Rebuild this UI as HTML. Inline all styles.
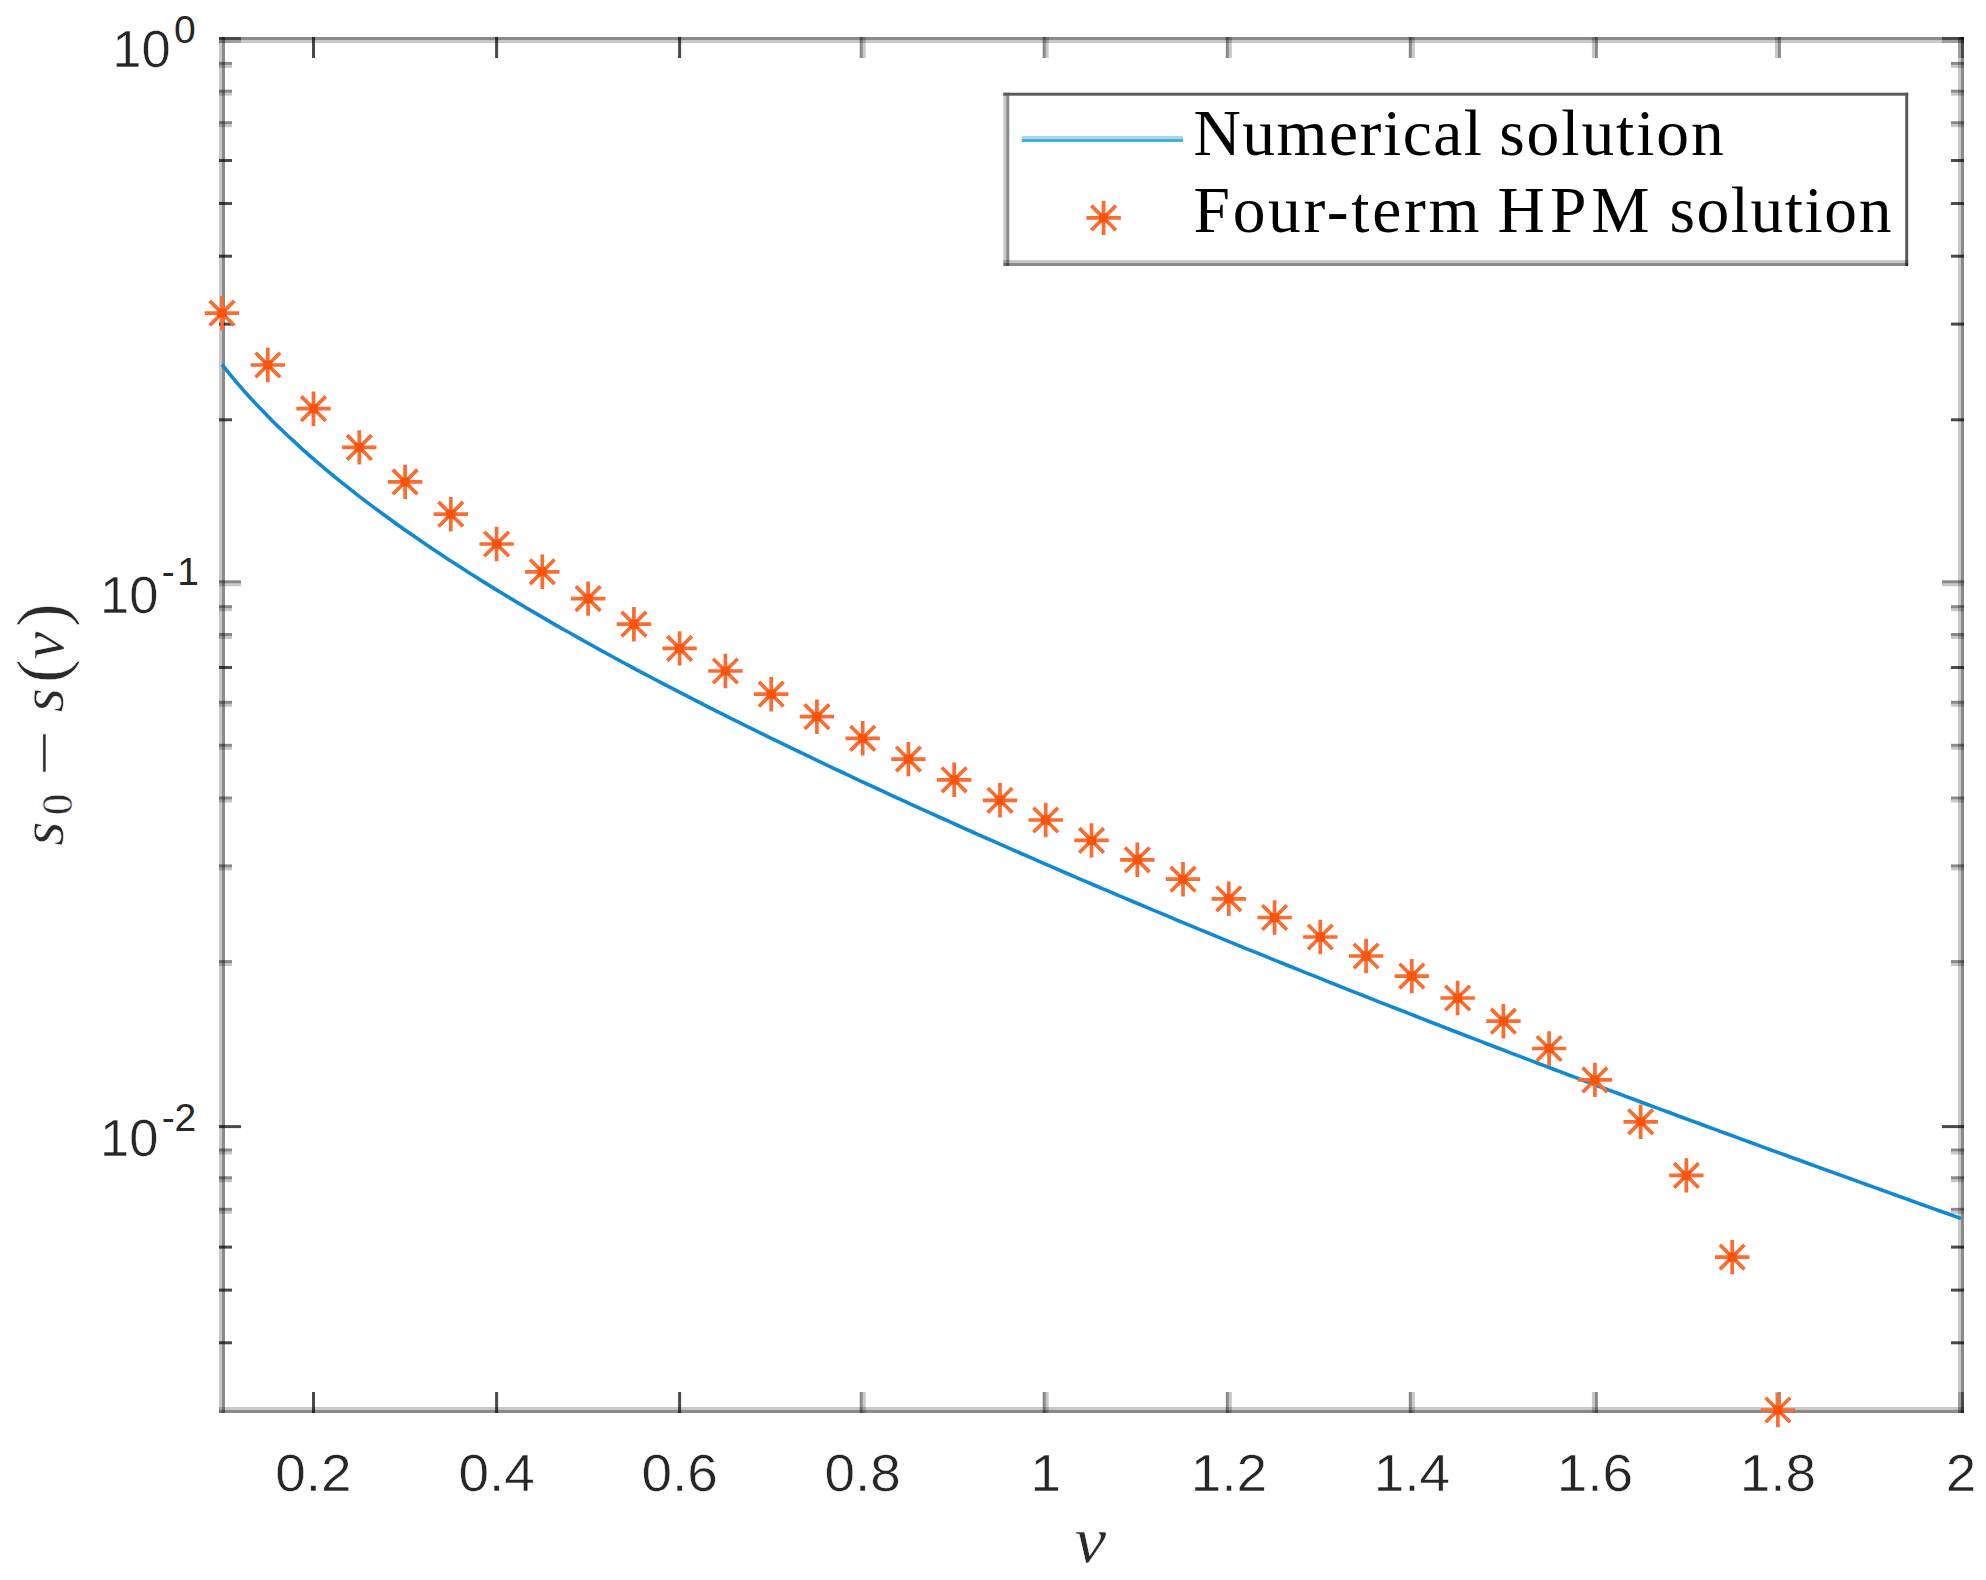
<!DOCTYPE html>
<html lang="en"><head><meta charset="utf-8"><title>Numerical vs four-term HPM solution</title>
<style>html,body{margin:0;padding:0;background:#fff}svg{display:block}.tk{font-family:"Liberation Sans",sans-serif;fill:#262626;stroke:#fff;stroke-width:0.5px}.ex{stroke:none}.lg{font-family:"Liberation Serif",serif;fill:#000}.mi{font-family:"Liberation Serif",serif;font-style:italic;fill:#2a2a2a;stroke:#fff;stroke-width:0.5px}.mr{font-family:"Liberation Serif",serif;fill:#2a2a2a;stroke:#fff;stroke-width:0.5px}</style></head><body>
<svg width="1986" height="1580" viewBox="0 0 1986 1580">
<rect width="1986" height="1580" fill="#fff"/>
<g id="axes">
<rect x="219.0" y="61.9" width="13.0" height="3.0" fill="rgba(0,0,0,0.46)"/>
<rect x="219.0" y="64.9" width="13.0" height="3.0" fill="rgba(0,0,0,0.215)"/>
<rect x="1951.0" y="61.9" width="13.0" height="3.0" fill="rgba(0,0,0,0.46)"/>
<rect x="1951.0" y="64.9" width="13.0" height="3.0" fill="rgba(0,0,0,0.215)"/>
<rect x="219.0" y="89.7" width="13.0" height="3.0" fill="rgba(0,0,0,0.46)"/>
<rect x="219.0" y="92.7" width="13.0" height="3.0" fill="rgba(0,0,0,0.215)"/>
<rect x="1951.0" y="89.7" width="13.0" height="3.0" fill="rgba(0,0,0,0.46)"/>
<rect x="1951.0" y="92.7" width="13.0" height="3.0" fill="rgba(0,0,0,0.215)"/>
<rect x="219.0" y="121.2" width="13.0" height="3.0" fill="rgba(0,0,0,0.46)"/>
<rect x="219.0" y="124.2" width="13.0" height="3.0" fill="rgba(0,0,0,0.215)"/>
<rect x="1951.0" y="121.2" width="13.0" height="3.0" fill="rgba(0,0,0,0.46)"/>
<rect x="1951.0" y="124.2" width="13.0" height="3.0" fill="rgba(0,0,0,0.215)"/>
<rect x="219.0" y="159.0" width="13.0" height="3.0" fill="rgba(0,0,0,0.71)"/>
<rect x="1951.0" y="159.0" width="13.0" height="3.0" fill="rgba(0,0,0,0.71)"/>
<rect x="219.0" y="202.0" width="13.0" height="3.0" fill="rgba(0,0,0,0.71)"/>
<rect x="1951.0" y="202.0" width="13.0" height="3.0" fill="rgba(0,0,0,0.71)"/>
<rect x="219.0" y="254.7" width="13.0" height="3.0" fill="rgba(0,0,0,0.71)"/>
<rect x="1951.0" y="254.7" width="13.0" height="3.0" fill="rgba(0,0,0,0.71)"/>
<rect x="219.0" y="322.6" width="13.0" height="3.0" fill="rgba(0,0,0,0.71)"/>
<rect x="1951.0" y="322.6" width="13.0" height="3.0" fill="rgba(0,0,0,0.71)"/>
<rect x="219.0" y="418.3" width="13.0" height="3.0" fill="rgba(0,0,0,0.71)"/>
<rect x="1951.0" y="418.3" width="13.0" height="3.0" fill="rgba(0,0,0,0.71)"/>
<rect x="219.0" y="580.3" width="22.0" height="3.0" fill="rgba(0,0,0,0.46)"/>
<rect x="219.0" y="583.3" width="22.0" height="3.0" fill="rgba(0,0,0,0.215)"/>
<rect x="1942.0" y="580.3" width="22.0" height="3.0" fill="rgba(0,0,0,0.46)"/>
<rect x="1942.0" y="583.3" width="22.0" height="3.0" fill="rgba(0,0,0,0.215)"/>
<rect x="219.0" y="605.2" width="13.0" height="3.0" fill="rgba(0,0,0,0.46)"/>
<rect x="219.0" y="608.2" width="13.0" height="3.0" fill="rgba(0,0,0,0.215)"/>
<rect x="1951.0" y="605.2" width="13.0" height="3.0" fill="rgba(0,0,0,0.46)"/>
<rect x="1951.0" y="608.2" width="13.0" height="3.0" fill="rgba(0,0,0,0.215)"/>
<rect x="219.0" y="633.0" width="13.0" height="3.0" fill="rgba(0,0,0,0.46)"/>
<rect x="219.0" y="636.0" width="13.0" height="3.0" fill="rgba(0,0,0,0.215)"/>
<rect x="1951.0" y="633.0" width="13.0" height="3.0" fill="rgba(0,0,0,0.46)"/>
<rect x="1951.0" y="636.0" width="13.0" height="3.0" fill="rgba(0,0,0,0.215)"/>
<rect x="219.0" y="666.0" width="13.0" height="3.0" fill="rgba(0,0,0,0.71)"/>
<rect x="1951.0" y="666.0" width="13.0" height="3.0" fill="rgba(0,0,0,0.71)"/>
<rect x="219.0" y="700.8" width="13.0" height="3.0" fill="rgba(0,0,0,0.46)"/>
<rect x="219.0" y="703.8" width="13.0" height="3.0" fill="rgba(0,0,0,0.215)"/>
<rect x="1951.0" y="700.8" width="13.0" height="3.0" fill="rgba(0,0,0,0.46)"/>
<rect x="1951.0" y="703.8" width="13.0" height="3.0" fill="rgba(0,0,0,0.215)"/>
<rect x="219.0" y="743.8" width="13.0" height="3.0" fill="rgba(0,0,0,0.46)"/>
<rect x="219.0" y="746.8" width="13.0" height="3.0" fill="rgba(0,0,0,0.215)"/>
<rect x="1951.0" y="743.8" width="13.0" height="3.0" fill="rgba(0,0,0,0.46)"/>
<rect x="1951.0" y="746.8" width="13.0" height="3.0" fill="rgba(0,0,0,0.215)"/>
<rect x="219.0" y="796.5" width="13.0" height="3.0" fill="rgba(0,0,0,0.46)"/>
<rect x="219.0" y="799.5" width="13.0" height="3.0" fill="rgba(0,0,0,0.215)"/>
<rect x="1951.0" y="796.5" width="13.0" height="3.0" fill="rgba(0,0,0,0.46)"/>
<rect x="1951.0" y="799.5" width="13.0" height="3.0" fill="rgba(0,0,0,0.215)"/>
<rect x="219.0" y="864.4" width="13.0" height="3.0" fill="rgba(0,0,0,0.46)"/>
<rect x="219.0" y="867.4" width="13.0" height="3.0" fill="rgba(0,0,0,0.215)"/>
<rect x="1951.0" y="864.4" width="13.0" height="3.0" fill="rgba(0,0,0,0.46)"/>
<rect x="1951.0" y="867.4" width="13.0" height="3.0" fill="rgba(0,0,0,0.215)"/>
<rect x="219.0" y="960.1" width="13.0" height="3.0" fill="rgba(0,0,0,0.46)"/>
<rect x="219.0" y="963.1" width="13.0" height="3.0" fill="rgba(0,0,0,0.215)"/>
<rect x="1951.0" y="960.1" width="13.0" height="3.0" fill="rgba(0,0,0,0.46)"/>
<rect x="1951.0" y="963.1" width="13.0" height="3.0" fill="rgba(0,0,0,0.215)"/>
<rect x="219.0" y="1125.1" width="22.0" height="3.0" fill="rgba(0,0,0,0.71)"/>
<rect x="1942.0" y="1125.1" width="22.0" height="3.0" fill="rgba(0,0,0,0.71)"/>
<rect x="219.0" y="1148.5" width="13.0" height="3.0" fill="rgba(0,0,0,0.46)"/>
<rect x="219.0" y="1151.5" width="13.0" height="3.0" fill="rgba(0,0,0,0.215)"/>
<rect x="1951.0" y="1148.5" width="13.0" height="3.0" fill="rgba(0,0,0,0.46)"/>
<rect x="1951.0" y="1151.5" width="13.0" height="3.0" fill="rgba(0,0,0,0.215)"/>
<rect x="219.0" y="1176.3" width="13.0" height="3.0" fill="rgba(0,0,0,0.46)"/>
<rect x="219.0" y="1179.3" width="13.0" height="3.0" fill="rgba(0,0,0,0.215)"/>
<rect x="1951.0" y="1176.3" width="13.0" height="3.0" fill="rgba(0,0,0,0.46)"/>
<rect x="1951.0" y="1179.3" width="13.0" height="3.0" fill="rgba(0,0,0,0.215)"/>
<rect x="219.0" y="1207.8" width="13.0" height="3.0" fill="rgba(0,0,0,0.46)"/>
<rect x="219.0" y="1210.8" width="13.0" height="3.0" fill="rgba(0,0,0,0.215)"/>
<rect x="1951.0" y="1207.8" width="13.0" height="3.0" fill="rgba(0,0,0,0.46)"/>
<rect x="1951.0" y="1210.8" width="13.0" height="3.0" fill="rgba(0,0,0,0.215)"/>
<rect x="219.0" y="1245.6" width="13.0" height="3.0" fill="rgba(0,0,0,0.71)"/>
<rect x="1951.0" y="1245.6" width="13.0" height="3.0" fill="rgba(0,0,0,0.71)"/>
<rect x="219.0" y="1288.6" width="13.0" height="3.0" fill="rgba(0,0,0,0.71)"/>
<rect x="1951.0" y="1288.6" width="13.0" height="3.0" fill="rgba(0,0,0,0.71)"/>
<rect x="219.0" y="1341.3" width="13.0" height="3.0" fill="rgba(0,0,0,0.71)"/>
<rect x="1951.0" y="1341.3" width="13.0" height="3.0" fill="rgba(0,0,0,0.71)"/>
<rect x="312.0" y="1392.0" width="3.0" height="21.0" fill="rgba(0,0,0,0.71)"/>
<rect x="312.0" y="37.0" width="3.0" height="21.0" fill="rgba(0,0,0,0.71)"/>
<rect x="495.1" y="1392.0" width="3.0" height="21.0" fill="rgba(0,0,0,0.71)"/>
<rect x="495.1" y="37.0" width="3.0" height="21.0" fill="rgba(0,0,0,0.71)"/>
<rect x="678.1" y="1392.0" width="3.0" height="21.0" fill="rgba(0,0,0,0.71)"/>
<rect x="678.1" y="37.0" width="3.0" height="21.0" fill="rgba(0,0,0,0.71)"/>
<rect x="859.7" y="1392.0" width="3.0" height="21.0" fill="rgba(0,0,0,0.46)"/>
<rect x="862.7" y="1392.0" width="3.0" height="21.0" fill="rgba(0,0,0,0.215)"/>
<rect x="859.7" y="37.0" width="3.0" height="21.0" fill="rgba(0,0,0,0.46)"/>
<rect x="862.7" y="37.0" width="3.0" height="21.0" fill="rgba(0,0,0,0.215)"/>
<rect x="1042.7" y="1392.0" width="3.0" height="21.0" fill="rgba(0,0,0,0.46)"/>
<rect x="1045.7" y="1392.0" width="3.0" height="21.0" fill="rgba(0,0,0,0.215)"/>
<rect x="1042.7" y="37.0" width="3.0" height="21.0" fill="rgba(0,0,0,0.46)"/>
<rect x="1045.7" y="37.0" width="3.0" height="21.0" fill="rgba(0,0,0,0.215)"/>
<rect x="1225.8" y="1392.0" width="3.0" height="21.0" fill="rgba(0,0,0,0.46)"/>
<rect x="1228.8" y="1392.0" width="3.0" height="21.0" fill="rgba(0,0,0,0.215)"/>
<rect x="1225.8" y="37.0" width="3.0" height="21.0" fill="rgba(0,0,0,0.46)"/>
<rect x="1228.8" y="37.0" width="3.0" height="21.0" fill="rgba(0,0,0,0.215)"/>
<rect x="1408.8" y="1392.0" width="3.0" height="21.0" fill="rgba(0,0,0,0.46)"/>
<rect x="1411.8" y="1392.0" width="3.0" height="21.0" fill="rgba(0,0,0,0.215)"/>
<rect x="1408.8" y="37.0" width="3.0" height="21.0" fill="rgba(0,0,0,0.46)"/>
<rect x="1411.8" y="37.0" width="3.0" height="21.0" fill="rgba(0,0,0,0.215)"/>
<rect x="1591.9" y="1392.0" width="3.0" height="21.0" fill="rgba(0,0,0,0.215)"/>
<rect x="1594.9" y="1392.0" width="3.0" height="21.0" fill="rgba(0,0,0,0.46)"/>
<rect x="1591.9" y="37.0" width="3.0" height="21.0" fill="rgba(0,0,0,0.215)"/>
<rect x="1594.9" y="37.0" width="3.0" height="21.0" fill="rgba(0,0,0,0.46)"/>
<rect x="1774.9" y="1392.0" width="3.0" height="21.0" fill="rgba(0,0,0,0.215)"/>
<rect x="1777.9" y="1392.0" width="3.0" height="21.0" fill="rgba(0,0,0,0.46)"/>
<rect x="1774.9" y="37.0" width="3.0" height="21.0" fill="rgba(0,0,0,0.215)"/>
<rect x="1777.9" y="37.0" width="3.0" height="21.0" fill="rgba(0,0,0,0.46)"/>
<rect x="219.0" y="37.0" width="3.0" height="1376.0" fill="rgba(0,0,0,0.215)"/>
<rect x="222.0" y="37.0" width="3.0" height="1376.0" fill="rgba(0,0,0,0.46)"/>
<rect x="1958.0" y="37.0" width="3.0" height="1376.0" fill="rgba(0,0,0,0.215)"/>
<rect x="1961.0" y="37.0" width="3.0" height="1376.0" fill="rgba(0,0,0,0.46)"/>
<rect x="219.0" y="37.0" width="1745.0" height="3.0" fill="rgba(0,0,0,0.46)"/>
<rect x="219.0" y="40.0" width="1745.0" height="3.0" fill="rgba(0,0,0,0.215)"/>
<rect x="219.0" y="1407.0" width="1745.0" height="3.0" fill="rgba(0,0,0,0.215)"/>
<rect x="219.0" y="1410.0" width="1745.0" height="3.0" fill="rgba(0,0,0,0.46)"/>
<rect x="219.0" y="37.0" width="22.0" height="3.0" fill="rgba(0,0,0,0.46)"/>
<rect x="219.0" y="40.0" width="22.0" height="3.0" fill="rgba(0,0,0,0.215)"/>
<rect x="1942.0" y="37.0" width="22.0" height="3.0" fill="rgba(0,0,0,0.46)"/>
<rect x="1942.0" y="40.0" width="22.0" height="3.0" fill="rgba(0,0,0,0.215)"/>
<rect x="1958.0" y="37.0" width="3.0" height="21.0" fill="rgba(0,0,0,0.215)"/>
<rect x="1961.0" y="37.0" width="3.0" height="21.0" fill="rgba(0,0,0,0.46)"/>
<rect x="1958.0" y="1392.0" width="3.0" height="21.0" fill="rgba(0,0,0,0.215)"/>
<rect x="1961.0" y="1392.0" width="3.0" height="21.0" fill="rgba(0,0,0,0.46)"/>
</g>
<polyline points="222.0,364.5 229.3,373.6 236.6,382.3 243.8,390.7 251.1,398.8 258.4,406.5 265.7,414.1 272.9,421.4 280.2,428.5 287.5,435.5 294.8,442.2 302.0,448.8 309.3,455.3 316.6,461.6 323.9,467.8 331.1,473.9 338.4,479.8 345.7,485.7 353.0,491.4 360.2,497.1 367.5,502.6 374.8,508.1 382.1,513.5 389.4,518.8 396.6,524.0 403.9,529.2 411.2,534.3 418.5,539.3 425.7,544.3 433.0,549.2 440.3,554.1 447.6,558.9 454.8,563.6 462.1,568.3 469.4,573.0 476.7,577.6 483.9,582.1 491.2,586.6 498.5,591.1 505.8,595.5 513.0,599.9 520.3,604.3 527.6,608.6 534.9,612.9 542.2,617.1 549.4,621.4 556.7,625.6 564.0,629.7 571.3,633.8 578.5,637.9 585.8,642.0 593.1,646.0 600.4,650.1 607.6,654.0 614.9,658.0 622.2,662.0 629.5,665.9 636.7,669.8 644.0,673.6 651.3,677.5 658.6,681.3 665.8,685.1 673.1,688.9 680.4,692.7 687.7,696.4 694.9,700.2 702.2,703.9 709.5,707.6 716.8,711.3 724.1,714.9 731.3,718.6 738.6,722.2 745.9,725.8 753.2,729.4 760.4,733.0 767.7,736.6 775.0,740.1 782.3,743.7 789.5,747.2 796.8,750.7 804.1,754.2 811.4,757.7 818.6,761.2 825.9,764.6 833.2,768.1 840.5,771.5 847.7,774.9 855.0,778.4 862.3,781.8 869.6,785.1 876.9,788.5 884.1,791.9 891.4,795.3 898.7,798.6 906.0,801.9 913.2,805.3 920.5,808.6 927.8,811.9 935.1,815.2 942.3,818.5 949.6,821.7 956.9,825.0 964.2,828.3 971.4,831.5 978.7,834.8 986.0,838.0 993.3,841.2 1000.5,844.4 1007.8,847.6 1015.1,850.8 1022.4,854.0 1029.7,857.2 1036.9,860.4 1044.2,863.6 1051.5,866.7 1058.8,869.9 1066.0,873.0 1073.3,876.1 1080.6,879.3 1087.9,882.4 1095.1,885.5 1102.4,888.6 1109.7,891.7 1117.0,894.8 1124.2,897.9 1131.5,901.0 1138.8,904.0 1146.1,907.1 1153.3,910.1 1160.6,913.2 1167.9,916.2 1175.2,919.3 1182.5,922.3 1189.7,925.3 1197.0,928.3 1204.3,931.3 1211.6,934.3 1218.8,937.3 1226.1,940.3 1233.4,943.3 1240.7,946.3 1247.9,949.3 1255.2,952.2 1262.5,955.2 1269.8,958.1 1277.0,961.1 1284.3,964.0 1291.6,967.0 1298.9,969.9 1306.1,972.8 1313.4,975.7 1320.7,978.7 1328.0,981.6 1335.3,984.5 1342.5,987.4 1349.8,990.3 1357.1,993.1 1364.4,996.0 1371.6,998.9 1378.9,1001.8 1386.2,1004.6 1393.5,1007.5 1400.7,1010.3 1408.0,1013.2 1415.3,1016.0 1422.6,1018.9 1429.8,1021.7 1437.1,1024.5 1444.4,1027.4 1451.7,1030.2 1458.9,1033.0 1466.2,1035.8 1473.5,1038.6 1480.8,1041.4 1488.1,1044.2 1495.3,1047.0 1502.6,1049.8 1509.9,1052.6 1517.2,1055.4 1524.4,1058.1 1531.7,1060.9 1539.0,1063.7 1546.3,1066.4 1553.5,1069.2 1560.8,1071.9 1568.1,1074.7 1575.4,1077.4 1582.6,1080.2 1589.9,1082.9 1597.2,1085.7 1604.5,1088.4 1611.7,1091.1 1619.0,1093.8 1626.3,1096.6 1633.6,1099.3 1640.8,1102.0 1648.1,1104.7 1655.4,1107.4 1662.7,1110.1 1670.0,1112.8 1677.2,1115.5 1684.5,1118.2 1691.8,1120.9 1699.1,1123.5 1706.3,1126.2 1713.6,1128.9 1720.9,1131.6 1728.2,1134.3 1735.4,1136.9 1742.7,1139.6 1750.0,1142.3 1757.3,1144.9 1764.5,1147.6 1771.8,1150.2 1779.1,1152.9 1786.4,1155.5 1793.6,1158.2 1800.9,1160.8 1808.2,1163.5 1815.5,1166.1 1822.8,1168.7 1830.0,1171.4 1837.3,1174.0 1844.6,1176.6 1851.9,1179.3 1859.1,1181.9 1866.4,1184.5 1873.7,1187.1 1881.0,1189.8 1888.2,1192.4 1895.5,1195.0 1902.8,1197.6 1910.1,1200.2 1917.3,1202.9 1924.6,1205.5 1931.9,1208.1 1939.2,1210.7 1946.4,1213.3 1953.7,1215.9 1961.0,1218.5" fill="none" stroke="#1089d2" stroke-width="3.6" stroke-linejoin="round"/>
<g id="markers">
<g transform="translate(222.0,313.2)" stroke="#fc6c30" stroke-width="3.7"><path d="M-17.2,0H17.2M0,-17.2V17.2M-12.3,-12.3L12.3,12.3M-12.3,12.3L12.3,-12.3" fill="none"/><rect x="-4.5" y="-4.5" width="9" height="9" fill="#f9530c" stroke="none"/></g>
<g transform="translate(267.8,365.0)" stroke="#fc6c30" stroke-width="3.7"><path d="M-17.2,0H17.2M0,-17.2V17.2M-12.3,-12.3L12.3,12.3M-12.3,12.3L12.3,-12.3" fill="none"/><rect x="-4.5" y="-4.5" width="9" height="9" fill="#f9530c" stroke="none"/></g>
<g transform="translate(313.5,408.7)" stroke="#fc6c30" stroke-width="3.7"><path d="M-17.2,0H17.2M0,-17.2V17.2M-12.3,-12.3L12.3,12.3M-12.3,12.3L12.3,-12.3" fill="none"/><rect x="-4.5" y="-4.5" width="9" height="9" fill="#f9530c" stroke="none"/></g>
<g transform="translate(359.3,447.4)" stroke="#fc6c30" stroke-width="3.7"><path d="M-17.2,0H17.2M0,-17.2V17.2M-12.3,-12.3L12.3,12.3M-12.3,12.3L12.3,-12.3" fill="none"/><rect x="-4.5" y="-4.5" width="9" height="9" fill="#f9530c" stroke="none"/></g>
<g transform="translate(405.1,481.9)" stroke="#fc6c30" stroke-width="3.7"><path d="M-17.2,0H17.2M0,-17.2V17.2M-12.3,-12.3L12.3,12.3M-12.3,12.3L12.3,-12.3" fill="none"/><rect x="-4.5" y="-4.5" width="9" height="9" fill="#f9530c" stroke="none"/></g>
<g transform="translate(450.8,514.2)" stroke="#fc6c30" stroke-width="3.7"><path d="M-17.2,0H17.2M0,-17.2V17.2M-12.3,-12.3L12.3,12.3M-12.3,12.3L12.3,-12.3" fill="none"/><rect x="-4.5" y="-4.5" width="9" height="9" fill="#f9530c" stroke="none"/></g>
<g transform="translate(496.6,544.0)" stroke="#fc6c30" stroke-width="3.7"><path d="M-17.2,0H17.2M0,-17.2V17.2M-12.3,-12.3L12.3,12.3M-12.3,12.3L12.3,-12.3" fill="none"/><rect x="-4.5" y="-4.5" width="9" height="9" fill="#f9530c" stroke="none"/></g>
<g transform="translate(542.3,571.8)" stroke="#fc6c30" stroke-width="3.7"><path d="M-17.2,0H17.2M0,-17.2V17.2M-12.3,-12.3L12.3,12.3M-12.3,12.3L12.3,-12.3" fill="none"/><rect x="-4.5" y="-4.5" width="9" height="9" fill="#f9530c" stroke="none"/></g>
<g transform="translate(588.1,598.6)" stroke="#fc6c30" stroke-width="3.7"><path d="M-17.2,0H17.2M0,-17.2V17.2M-12.3,-12.3L12.3,12.3M-12.3,12.3L12.3,-12.3" fill="none"/><rect x="-4.5" y="-4.5" width="9" height="9" fill="#f9530c" stroke="none"/></g>
<g transform="translate(633.9,624.2)" stroke="#fc6c30" stroke-width="3.7"><path d="M-17.2,0H17.2M0,-17.2V17.2M-12.3,-12.3L12.3,12.3M-12.3,12.3L12.3,-12.3" fill="none"/><rect x="-4.5" y="-4.5" width="9" height="9" fill="#f9530c" stroke="none"/></g>
<g transform="translate(679.6,648.4)" stroke="#fc6c30" stroke-width="3.7"><path d="M-17.2,0H17.2M0,-17.2V17.2M-12.3,-12.3L12.3,12.3M-12.3,12.3L12.3,-12.3" fill="none"/><rect x="-4.5" y="-4.5" width="9" height="9" fill="#f9530c" stroke="none"/></g>
<g transform="translate(725.4,671.0)" stroke="#fc6c30" stroke-width="3.7"><path d="M-17.2,0H17.2M0,-17.2V17.2M-12.3,-12.3L12.3,12.3M-12.3,12.3L12.3,-12.3" fill="none"/><rect x="-4.5" y="-4.5" width="9" height="9" fill="#f9530c" stroke="none"/></g>
<g transform="translate(771.2,694.2)" stroke="#fc6c30" stroke-width="3.7"><path d="M-17.2,0H17.2M0,-17.2V17.2M-12.3,-12.3L12.3,12.3M-12.3,12.3L12.3,-12.3" fill="none"/><rect x="-4.5" y="-4.5" width="9" height="9" fill="#f9530c" stroke="none"/></g>
<g transform="translate(816.9,716.7)" stroke="#fc6c30" stroke-width="3.7"><path d="M-17.2,0H17.2M0,-17.2V17.2M-12.3,-12.3L12.3,12.3M-12.3,12.3L12.3,-12.3" fill="none"/><rect x="-4.5" y="-4.5" width="9" height="9" fill="#f9530c" stroke="none"/></g>
<g transform="translate(862.7,738.3)" stroke="#fc6c30" stroke-width="3.7"><path d="M-17.2,0H17.2M0,-17.2V17.2M-12.3,-12.3L12.3,12.3M-12.3,12.3L12.3,-12.3" fill="none"/><rect x="-4.5" y="-4.5" width="9" height="9" fill="#f9530c" stroke="none"/></g>
<g transform="translate(908.4,759.1)" stroke="#fc6c30" stroke-width="3.7"><path d="M-17.2,0H17.2M0,-17.2V17.2M-12.3,-12.3L12.3,12.3M-12.3,12.3L12.3,-12.3" fill="none"/><rect x="-4.5" y="-4.5" width="9" height="9" fill="#f9530c" stroke="none"/></g>
<g transform="translate(954.2,779.8)" stroke="#fc6c30" stroke-width="3.7"><path d="M-17.2,0H17.2M0,-17.2V17.2M-12.3,-12.3L12.3,12.3M-12.3,12.3L12.3,-12.3" fill="none"/><rect x="-4.5" y="-4.5" width="9" height="9" fill="#f9530c" stroke="none"/></g>
<g transform="translate(1000.0,800.3)" stroke="#fc6c30" stroke-width="3.7"><path d="M-17.2,0H17.2M0,-17.2V17.2M-12.3,-12.3L12.3,12.3M-12.3,12.3L12.3,-12.3" fill="none"/><rect x="-4.5" y="-4.5" width="9" height="9" fill="#f9530c" stroke="none"/></g>
<g transform="translate(1045.7,820.0)" stroke="#fc6c30" stroke-width="3.7"><path d="M-17.2,0H17.2M0,-17.2V17.2M-12.3,-12.3L12.3,12.3M-12.3,12.3L12.3,-12.3" fill="none"/><rect x="-4.5" y="-4.5" width="9" height="9" fill="#f9530c" stroke="none"/></g>
<g transform="translate(1091.5,840.4)" stroke="#fc6c30" stroke-width="3.7"><path d="M-17.2,0H17.2M0,-17.2V17.2M-12.3,-12.3L12.3,12.3M-12.3,12.3L12.3,-12.3" fill="none"/><rect x="-4.5" y="-4.5" width="9" height="9" fill="#f9530c" stroke="none"/></g>
<g transform="translate(1137.3,859.8)" stroke="#fc6c30" stroke-width="3.7"><path d="M-17.2,0H17.2M0,-17.2V17.2M-12.3,-12.3L12.3,12.3M-12.3,12.3L12.3,-12.3" fill="none"/><rect x="-4.5" y="-4.5" width="9" height="9" fill="#f9530c" stroke="none"/></g>
<g transform="translate(1183.0,879.2)" stroke="#fc6c30" stroke-width="3.7"><path d="M-17.2,0H17.2M0,-17.2V17.2M-12.3,-12.3L12.3,12.3M-12.3,12.3L12.3,-12.3" fill="none"/><rect x="-4.5" y="-4.5" width="9" height="9" fill="#f9530c" stroke="none"/></g>
<g transform="translate(1228.8,898.8)" stroke="#fc6c30" stroke-width="3.7"><path d="M-17.2,0H17.2M0,-17.2V17.2M-12.3,-12.3L12.3,12.3M-12.3,12.3L12.3,-12.3" fill="none"/><rect x="-4.5" y="-4.5" width="9" height="9" fill="#f9530c" stroke="none"/></g>
<g transform="translate(1274.6,917.5)" stroke="#fc6c30" stroke-width="3.7"><path d="M-17.2,0H17.2M0,-17.2V17.2M-12.3,-12.3L12.3,12.3M-12.3,12.3L12.3,-12.3" fill="none"/><rect x="-4.5" y="-4.5" width="9" height="9" fill="#f9530c" stroke="none"/></g>
<g transform="translate(1320.3,937.0)" stroke="#fc6c30" stroke-width="3.7"><path d="M-17.2,0H17.2M0,-17.2V17.2M-12.3,-12.3L12.3,12.3M-12.3,12.3L12.3,-12.3" fill="none"/><rect x="-4.5" y="-4.5" width="9" height="9" fill="#f9530c" stroke="none"/></g>
<g transform="translate(1366.1,956.0)" stroke="#fc6c30" stroke-width="3.7"><path d="M-17.2,0H17.2M0,-17.2V17.2M-12.3,-12.3L12.3,12.3M-12.3,12.3L12.3,-12.3" fill="none"/><rect x="-4.5" y="-4.5" width="9" height="9" fill="#f9530c" stroke="none"/></g>
<g transform="translate(1411.8,976.1)" stroke="#fc6c30" stroke-width="3.7"><path d="M-17.2,0H17.2M0,-17.2V17.2M-12.3,-12.3L12.3,12.3M-12.3,12.3L12.3,-12.3" fill="none"/><rect x="-4.5" y="-4.5" width="9" height="9" fill="#f9530c" stroke="none"/></g>
<g transform="translate(1457.6,998.0)" stroke="#fc6c30" stroke-width="3.7"><path d="M-17.2,0H17.2M0,-17.2V17.2M-12.3,-12.3L12.3,12.3M-12.3,12.3L12.3,-12.3" fill="none"/><rect x="-4.5" y="-4.5" width="9" height="9" fill="#f9530c" stroke="none"/></g>
<g transform="translate(1503.4,1021.2)" stroke="#fc6c30" stroke-width="3.7"><path d="M-17.2,0H17.2M0,-17.2V17.2M-12.3,-12.3L12.3,12.3M-12.3,12.3L12.3,-12.3" fill="none"/><rect x="-4.5" y="-4.5" width="9" height="9" fill="#f9530c" stroke="none"/></g>
<g transform="translate(1549.1,1048.5)" stroke="#fc6c30" stroke-width="3.7"><path d="M-17.2,0H17.2M0,-17.2V17.2M-12.3,-12.3L12.3,12.3M-12.3,12.3L12.3,-12.3" fill="none"/><rect x="-4.5" y="-4.5" width="9" height="9" fill="#f9530c" stroke="none"/></g>
<g transform="translate(1594.9,1079.9)" stroke="#fc6c30" stroke-width="3.7"><path d="M-17.2,0H17.2M0,-17.2V17.2M-12.3,-12.3L12.3,12.3M-12.3,12.3L12.3,-12.3" fill="none"/><rect x="-4.5" y="-4.5" width="9" height="9" fill="#f9530c" stroke="none"/></g>
<g transform="translate(1640.7,1121.8)" stroke="#fc6c30" stroke-width="3.7"><path d="M-17.2,0H17.2M0,-17.2V17.2M-12.3,-12.3L12.3,12.3M-12.3,12.3L12.3,-12.3" fill="none"/><rect x="-4.5" y="-4.5" width="9" height="9" fill="#f9530c" stroke="none"/></g>
<g transform="translate(1686.4,1175.4)" stroke="#fc6c30" stroke-width="3.7"><path d="M-17.2,0H17.2M0,-17.2V17.2M-12.3,-12.3L12.3,12.3M-12.3,12.3L12.3,-12.3" fill="none"/><rect x="-4.5" y="-4.5" width="9" height="9" fill="#f9530c" stroke="none"/></g>
<g transform="translate(1732.2,1257.1)" stroke="#fc6c30" stroke-width="3.7"><path d="M-17.2,0H17.2M0,-17.2V17.2M-12.3,-12.3L12.3,12.3M-12.3,12.3L12.3,-12.3" fill="none"/><rect x="-4.5" y="-4.5" width="9" height="9" fill="#f9530c" stroke="none"/></g>
<g transform="translate(1777.9,1410.0)" stroke="#fc6c30" stroke-width="3.7"><path d="M-17.2,0H17.2M0,-17.2V17.2M-12.3,-12.3L12.3,12.3M-12.3,12.3L12.3,-12.3" fill="none"/><rect x="-4.5" y="-4.5" width="9" height="9" fill="#f9530c" stroke="none"/></g>
</g>
<g id="legend">
<rect x="1006.3" y="94.2" width="900.4" height="168.8" fill="#fff"/>
<rect x="1003.3" y="92.7" width="3.0" height="173.3" fill="rgba(0,0,0,0.215)"/>
<rect x="1006.3" y="92.7" width="3.0" height="173.3" fill="rgba(0,0,0,0.46)"/>
<rect x="1003.3" y="92.7" width="904.9" height="3.0" fill="#5a5a5a"/>
<rect x="1905.2" y="92.7" width="3.0" height="173.3" fill="#5a5a5a"/>
<rect x="1003.3" y="260.0" width="904.9" height="3.0" fill="rgba(0,0,0,0.215)"/>
<rect x="1003.3" y="263.0" width="904.9" height="3.0" fill="rgba(0,0,0,0.46)"/>
<rect x="1021.8" y="136.0" width="161.1" height="3.0" fill="#a8d8ee"/>
<rect x="1021.8" y="139.0" width="161.1" height="3.0" fill="#44b0dc"/>
<g transform="translate(1103.6,217.9)" stroke="#fc6c30" stroke-width="3.7"><path d="M-17.2,0H17.2M0,-17.2V17.2M-12.3,-12.3L12.3,12.3M-12.3,12.3L12.3,-12.3" fill="none"/><rect x="-4.5" y="-4.5" width="9" height="9" fill="#f9530c" stroke="none"/></g>
<text class="lg" font-size="65.5" y="154.8"><tspan x="1193.5" textLength="288.5" lengthAdjust="spacing">Numerical</tspan> <tspan x="1499.2" textLength="224.5" lengthAdjust="spacing">solution</tspan></text>
<text class="lg" font-size="65.5" y="232.3"><tspan x="1193.5" textLength="286" lengthAdjust="spacing">Four-term</tspan> <tspan x="1497.6" textLength="152" lengthAdjust="spacing">HPM</tspan> <tspan x="1669.4" textLength="222" lengthAdjust="spacing">solution</tspan></text>
</g>
<g id="xticks" class="tk" text-anchor="middle">
<text x="313.5" y="1490.8" font-size="52.5" textLength="76.3" lengthAdjust="spacingAndGlyphs">0.2</text>
<text x="496.6" y="1490.8" font-size="52.5" textLength="76.3" lengthAdjust="spacingAndGlyphs">0.4</text>
<text x="679.6" y="1490.8" font-size="52.5" textLength="76.3" lengthAdjust="spacingAndGlyphs">0.6</text>
<text x="862.7" y="1490.8" font-size="52.5" textLength="76.3" lengthAdjust="spacingAndGlyphs">0.8</text>
<text x="1045.7" y="1490.8" font-size="52.5" textLength="30.5" lengthAdjust="spacingAndGlyphs">1</text>
<text x="1228.8" y="1490.8" font-size="52.5" textLength="76.3" lengthAdjust="spacingAndGlyphs">1.2</text>
<text x="1411.8" y="1490.8" font-size="52.5" textLength="76.3" lengthAdjust="spacingAndGlyphs">1.4</text>
<text x="1594.9" y="1490.8" font-size="52.5" textLength="76.3" lengthAdjust="spacingAndGlyphs">1.6</text>
<text x="1777.9" y="1490.8" font-size="52.5" textLength="76.3" lengthAdjust="spacingAndGlyphs">1.8</text>
<text x="1961.0" y="1490.8" font-size="52.5" textLength="30.5" lengthAdjust="spacingAndGlyphs">2</text>
</g>
<g id="yticks" class="tk">
<text x="112.2" y="67.4" font-size="52.5">10<tspan class="ex" font-size="39" x="173.9" y="42.6">0</tspan></text>
<text x="100.1" y="612.8" font-size="52.5">10<tspan class="ex" font-size="39" x="161.8" y="585.4">-</tspan><tspan class="ex" font-size="39" x="177.2" y="585.4">1</tspan></text>
<text x="100.1" y="1155.6" font-size="52.5">10<tspan class="ex" font-size="39" x="161.8" y="1130.8">-</tspan><tspan class="ex" font-size="39" x="174.6" y="1130.8">2</tspan></text>
</g>
<text class="mi" x="1090.3" y="1561.6" font-size="66" text-anchor="middle" textLength="32" lengthAdjust="spacingAndGlyphs">v</text>
<g id="ylabel" transform="translate(62.5,845.7) rotate(-90)">
<text class="mi" transform="translate(0,0) scale(1.0,1)" font-size="62">s</text>
<text class="mr" transform="translate(30.6,9) scale(0.97,1)" font-size="44">0</text>
<text class="mr" transform="translate(69.5,2.8) scale(1.33,1)" font-size="62">−</text>
<text class="mi" transform="translate(133.5,0) scale(1.0,1)" font-size="62">s</text>
<text class="mr" transform="translate(163,2) scale(1.0,1)" font-size="70">(</text>
<text class="mi" transform="translate(186.5,0) scale(1.0,1)" font-size="62">v</text>
<text class="mr" transform="translate(219,2) scale(1.0,1)" font-size="70">)</text>
</g>
</svg></body></html>
